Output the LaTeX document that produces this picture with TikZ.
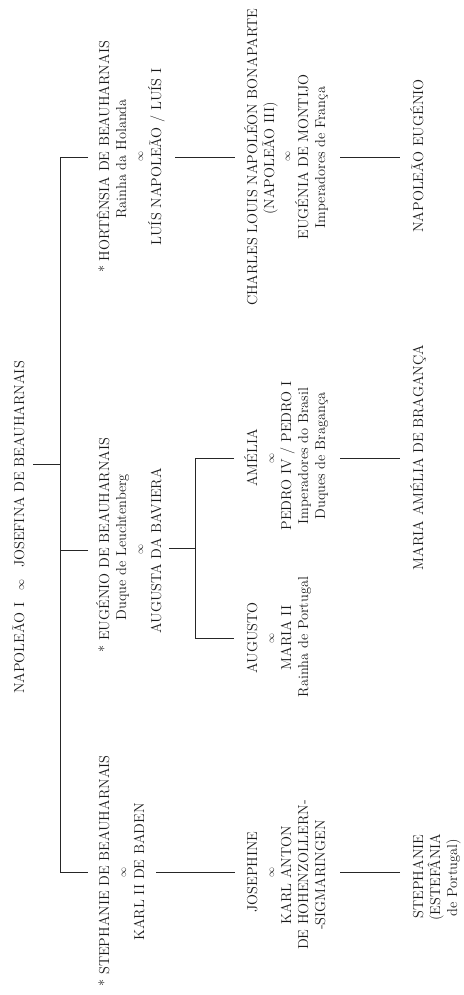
\documentclass[tikz,border=0pt]{standalone}
\definecolor{txtc}{HTML}{1A1A1A}
\definecolor{linec}{HTML}{262626}
\tikzset{
  ln/.style={rotate=90, anchor=base, inner sep=0pt, text=txtc,
    font=\fontsize{14.4}{17}\selectfont},
  inf/.style={rotate=90, anchor=base, inner sep=0pt, text=txtc,
    font=\fontsize{10}{10}\selectfont},
  link/.style={draw=linec, line width=0.9pt}
}
\begin{document}
\begin{tikzpicture}[x=1pt, y=-1pt]
\useasboundingbox (0,0) rectangle (463,995);

% generation 0
\node[ln] (napo) at (24,527.5) {NAPOLEÃO I\hspace{12pt}{\fontsize{10.5}{10}\selectfont$\infty$}\hspace{12pt}JOSEFINA DE BEAUHARNAIS};

% generation 1 : Hortênsia
\node[ln] (hort1) at (109,157) {* HORTÊNSIA DE BEAUHARNAIS};
\node[ln] (hort2) at (126,159) {Rainha da Holanda};
\node[inf] (hort3) at (143,157) {$\infty$};
\node[ln] (hort4) at (161,157) {LUÍS NAPOLEÃO / LUÍS I};

% generation 1 : Eugénio
\node[ln] (eug1) at (109,545) {* EUGÉNIO DE BEAUHARNAIS};
\node[ln] (eug2) at (126,547) {Duque de Leuchtenberg};
\node[inf] (eug3) at (143,549) {$\infty$};
\node[ln] (eug4) at (161,551) {AUGUSTA DA BAVIERA};

% generation 1 : Stephanie
\node[ln] (steph1) at (109,871) {* STEPHANIE DE BEAUHARNAIS};
\node[inf] (steph2) at (126,872) {$\infty$};
\node[ln] (steph3) at (144,872) {KARL II DE BADEN};

% generation 2 : Charles
\node[ln] (char1) at (257,157.5) {CHARLES LOUIS NAPOLÉON BONAPARTE};
\node[ln] (char2) at (274,158.5) {(NAPOLEÃO III)};
\node[inf] (char3) at (290,157) {$\infty$};
\node[ln] (char4) at (308,157) {EUGÉNIA DE MONTIJO};
\node[ln] (char5) at (325,157.5) {Imperadores de França};

% generation 2 : Amélia
\node[ln] (ame1) at (257,458) {AMÉLIA};
\node[inf] (ame2) at (274,458) {$\infty$};
\node[ln] (ame3) at (291,456) {PEDRO IV / PEDRO I};
\node[ln] (ame4) at (308,456) {Imperadores do Brasil};
\node[ln] (ame5) at (325,456) {Duques de Bragança};

% generation 2 : Augusto
\node[ln] (aug1) at (257,638) {AUGUSTO};
\node[inf] (aug2) at (274,638) {$\infty$};
\node[ln] (aug3) at (291,638) {MARIA II};
\node[ln] (aug4) at (308,637) {Rainha de Portugal};

% generation 2 : Josephine
\node[ln] (jos1) at (257,872) {JOSEPHINE};
\node[inf] (jos2) at (274,872) {$\infty$};
\node[ln] (jos3) at (291,875) {KARL ANTON};
\node[ln] (jos4) at (308,875) {DE HOHENZOLLERN-};
\node[ln] (jos5) at (325,875) {-SIGMARINGEN};

% generation 3
\node[ln] (nape) at (423,156) {NAPOLEÃO EUGÉNIO};
\node[ln] (mame) at (423,457.5) {MARIA AMÉLIA DE BRAGANÇA};
\node[ln] (stp1) at (423,876.5) {STEPHANIE};
\node[ln] (stp2) at (440,877) {(ESTEFÂNIA};
\node[ln] (stp3) at (457,877.5) {de Portugal)};

% connection points
\coordinate (napoOut) at (33,464);
\coordinate (trunk)   at (60,464);
\coordinate (hortIn)  at (88,157);
\coordinate (hortOut) at (175,157);
\coordinate (eugIn)   at (88,550);
\coordinate (eugOut)  at (169,548);
\coordinate (fork)    at (195,548);
\coordinate (stephIn) at (88,872);
\coordinate (stephOut) at (156,872);
\coordinate (charIn)  at (235,157);
\coordinate (charOut) at (340,157);
\coordinate (ameIn)   at (234,458);
\coordinate (ameOut)  at (340,458);
\coordinate (augIn)   at (234,638);
\coordinate (josIn)   at (235,872);
\coordinate (josOut)  at (340,872);
\coordinate (napeIn)  at (400,157);
\coordinate (mameIn)  at (400,458);
\coordinate (stpIn)   at (400,872);

% connectors
\draw[link] (napoOut) -- (trunk);
\draw[link] (hortIn) -- (hortIn -| trunk) -- (stephIn -| trunk) -- (stephIn);
\draw[link] (eugIn) -- (eugIn -| trunk);
\draw[link] (hortOut) -- (charIn);
\draw[link] (charOut) -- (napeIn);
\draw[link] (eugOut) -- (fork);
\draw[link] (ameIn) -- (ameIn -| fork) -- (augIn -| fork) -- (augIn);
\draw[link] (ameOut) -- (mameIn);
\draw[link] (stephOut) -- (josIn);
\draw[link] (josOut) -- (stpIn);
\end{tikzpicture}
\end{document}
